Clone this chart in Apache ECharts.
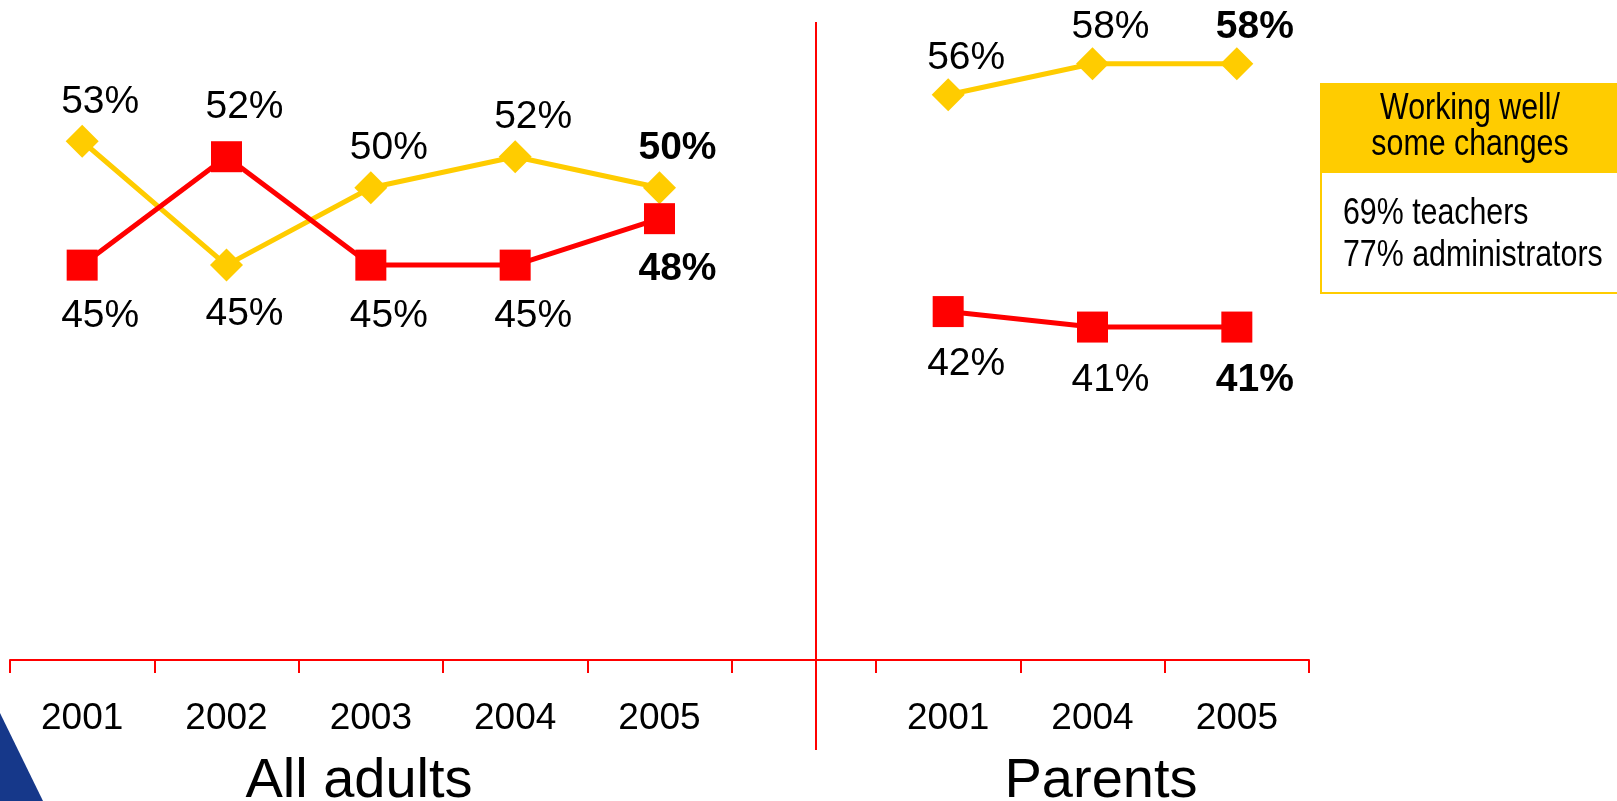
<!DOCTYPE html>
<html>
<head>
<meta charset="utf-8">
<script src="https://cdn.jsdelivr.net/npm/echarts@6/dist/echarts.min.js"></script>
<style>
  html, body { margin: 0; padding: 0; background: #ffffff; }
  #chart { width: 1617px; height: 801px; }
</style>
</head>
<body>
<div id="chart"></div>
<script>
// Survey years for each panel
const leftYears = ['2001', '2002', '2003', '2004', '2005'];
const rightYears = ['2001', '2004', '2005'];

// Percentages, all adults
const adultsWorkingWell = [53, 45, 50, 52, 50];
const adultsMajorChanges = [45, 52, 45, 45, 48];

// Percentages, parents
const parentsWorkingWell = [56, 58, 58];
const parentsMajorChanges = [42, 41, 41];

// Panel captions and side box text
const panelTitles = ['All adults', 'Parents'];
const boxTitle = ['Working well/', 'some changes'];
const boxLines = ['69% teachers', '77% administrators'];

const YELLOW = '#FFCC00';
const RED = '#FF0000';
const FONT = '"Liberation Sans", Arial, Helvetica, sans-serif';
// condensed look for the side box: regular face squeezed horizontally
const NARROW_SCALE = 0.82;

// Each point's label goes above when its series is the higher one at that year,
// below otherwise; the last year of each panel is printed in bold.
function pointsWithLabels(values, other, gapAbove, gapBelow) {
  return values.map((v, i) => {
    const above = v >= other[i];
    return {
      value: v,
      label: {
        offset: above ? [18, -gapAbove] : [18, gapBelow],
        fontWeight: i === values.length - 1 ? 'bold' : 'normal'
      }
    };
  });
}

function lineSeries(name, values, other, grid, color, symbol, size, gapAbove, gapBelow) {
  return {
    name: name,
    type: 'line',
    xAxisIndex: grid,
    yAxisIndex: grid,
    data: pointsWithLabels(values, other, gapAbove, gapBelow),
    symbol: symbol,
    symbolSize: size,
    showAllSymbol: true,
    lineStyle: { color: color, width: 5 },
    itemStyle: { color: color, opacity: 1 },
    label: {
      show: true,
      position: 'inside',
      formatter: '{c}%',
      color: '#000',
      fontSize: 39,
      fontFamily: FONT
    },
    emphasis: { disabled: true },
    silent: true
  };
}

const axisLook = {
  type: 'category',
  boundaryGap: true,
  axisLine: { show: true, lineStyle: { color: RED, width: 2 } },
  axisTick: { show: true, inside: false, length: 13, lineStyle: { color: RED, width: 2 } },
  axisLabel: {
    color: '#000',
    fontSize: 37,
    fontFamily: FONT,
    margin: 40,
    lineHeight: 37
  },
  splitLine: { show: false }
};

const yLook = {
  type: 'value',
  min: 19.5,
  max: 60.7,
  show: false,
  splitLine: { show: false }
};

const chart = echarts.init(document.getElementById('chart'), null, { renderer: 'canvas' });

chart.setOption({
  animation: false,
  backgroundColor: '#ffffff',
  grid: [
    { left: 10, top: 22, width: 866, height: 638 },
    { left: 876, top: 22, width: 433, height: 638 }
  ],
  xAxis: [
    Object.assign({ gridIndex: 0, data: leftYears.concat(['']) }, axisLook),
    Object.assign({ gridIndex: 1, data: rightYears }, axisLook)
  ],
  yAxis: [
    Object.assign({ gridIndex: 0 }, yLook),
    Object.assign({ gridIndex: 1 }, yLook)
  ],
  series: [
    lineSeries('Working well/some changes', adultsWorkingWell, adultsMajorChanges, 0, YELLOW, 'diamond', 33, 39, 49),
    lineSeries('Major changes', adultsMajorChanges, adultsWorkingWell, 0, RED, 'rect', 31, 49, 51),
    lineSeries('Working well/some changes', parentsWorkingWell, parentsMajorChanges, 1, YELLOW, 'diamond', 33, 37, 49),
    lineSeries('Major changes', parentsMajorChanges, parentsWorkingWell, 1, RED, 'rect', 31, 49, 53)
  ],
  graphic: [
    // corner ornament
    {
      type: 'polygon',
      shape: { points: [[0, 713], [43, 801], [0, 801]] },
      style: { fill: '#16388a' },
      silent: true
    },
    // divider between the two panels
    {
      type: 'line',
      shape: { x1: 816, y1: 22, x2: 816, y2: 750 },
      style: { stroke: RED, lineWidth: 2 },
      silent: true
    },
    // panel captions
    {
      type: 'text',
      x: 359, y: 782,
      style: {
        text: panelTitles[0], fill: '#000',
        font: '56px ' + FONT, textAlign: 'center', textVerticalAlign: 'middle'
      }
    },
    {
      type: 'text',
      x: 1101, y: 782,
      style: {
        text: panelTitles[1], fill: '#000',
        font: '56px ' + FONT, textAlign: 'center', textVerticalAlign: 'middle'
      }
    },
    // side box: body, header and texts
    {
      type: 'rect',
      shape: { x: 1321, y: 172, width: 310, height: 121 },
      style: { fill: '#ffffff', stroke: YELLOW, lineWidth: 2 },
      silent: true
    },
    {
      type: 'rect',
      shape: { x: 1320, y: 83, width: 310, height: 90 },
      style: { fill: YELLOW },
      silent: true
    },
    {
      type: 'text',
      x: 1470, y: 127,
      scaleX: NARROW_SCALE,
      style: {
        text: boxTitle.join('\n'), fill: '#000',
        font: '37px ' + FONT, lineHeight: 36,
        textAlign: 'center', textVerticalAlign: 'middle'
      }
    },
    {
      type: 'text',
      x: 1343, y: 235,
      scaleX: NARROW_SCALE,
      style: {
        text: boxLines.join('\n'), fill: '#000',
        font: '37px ' + FONT, lineHeight: 42,
        textAlign: 'left', textVerticalAlign: 'middle'
      }
    }
  ]
});
</script>
</body>
</html>
